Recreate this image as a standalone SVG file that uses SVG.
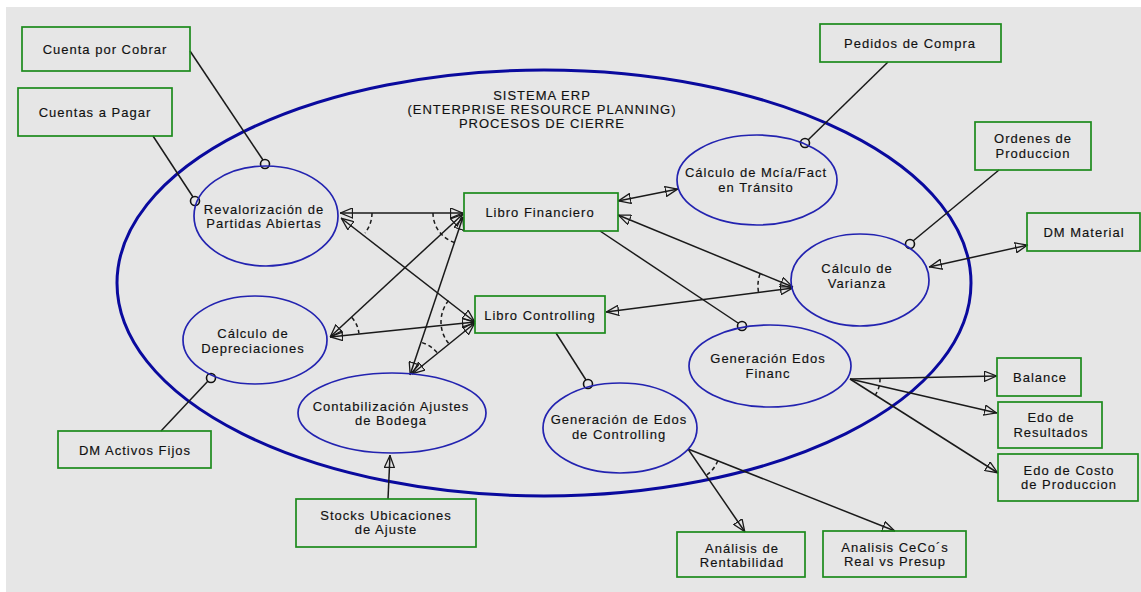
<svg xmlns="http://www.w3.org/2000/svg" width="1141" height="592" viewBox="0 0 1141 592">
  <style>
    text { font-family: "Liberation Sans", Arial, sans-serif; font-size: 13px; letter-spacing: 1px; fill: #111; stroke: #111; stroke-width: 0.15; text-anchor: middle; }
    .box { fill: none; stroke: #1c8a1c; stroke-width: 1.7; }
    .uc { fill: none; stroke: #2323b0; stroke-width: 1.7; }
    .sys { fill: none; stroke: #0a0a9e; stroke-width: 3; }
    .ln { fill: none; stroke: #1a1a1a; stroke-width: 1.5; }
    .dash { fill: none; stroke: #1a1a1a; stroke-width: 1.5; stroke-dasharray: 4 3; }
    .dot { fill: #e6e6e6; stroke: #111; stroke-width: 1.6; }
  </style>
  <defs>
    <marker id="arr" viewBox="0 0 13 11" refX="13" refY="5.5" markerWidth="13" markerHeight="11" markerUnits="userSpaceOnUse" orient="auto-start-reverse">
      <path d="M0.5,0.5 L12.5,5.5 L0.5,10.5 Z" fill="none" stroke="#1a1a1a" stroke-width="1.3"/>
    </marker>
  </defs>

  <rect x="0" y="0" width="1141" height="592" fill="#ffffff"/>
  <rect x="6" y="7" width="1135" height="585" fill="#e6e6e6"/>

  <!-- system boundary -->
  <g id="sistema-erp">
    <ellipse class="sys" cx="544" cy="283" rx="427" ry="213"/>
    <text x="542" y="100">SISTEMA ERP</text>
    <text x="542" y="114">(ENTERPRISE RESOURCE PLANNING)</text>
    <text x="542" y="128">PROCESOS DE CIERRE</text>
  </g>

  <!-- connectors -->
  <g id="connectors">
    <!-- socket links -->
    <line class="ln" x1="190" y1="51" x2="263" y2="160"/>
    <line class="ln" x1="153" y1="136" x2="193" y2="197"/>
    <line class="ln" x1="888" y1="62" x2="808" y2="140"/>
    <line class="ln" x1="999" y1="170" x2="913" y2="241"/>
    <line class="ln" x1="161" y1="431" x2="208" y2="381"/>
    <line class="ln" x1="556" y1="333" x2="586" y2="380"/>
    <line class="ln" x1="600" y1="231" x2="738" y2="323"/>
    <circle class="dot" cx="265" cy="164" r="4.5"/>
    <circle class="dot" cx="195" cy="201" r="4.5"/>
    <circle class="dot" cx="805" cy="143" r="4.5"/>
    <circle class="dot" cx="910" cy="244" r="4.5"/>
    <circle class="dot" cx="211" cy="378" r="4.5"/>
    <circle class="dot" cx="588" cy="384" r="4.5"/>
    <circle class="dot" cx="742" cy="326" r="4.5"/>

    <!-- two-way flows -->
    <line class="ln" x1="340" y1="213" x2="463" y2="213" marker-start="url(#arr)" marker-end="url(#arr)"/>
    <line class="ln" x1="341" y1="218" x2="475" y2="322" marker-start="url(#arr)" marker-end="url(#arr)"/>
    <line class="ln" x1="330" y1="337" x2="463" y2="214" marker-start="url(#arr)" marker-end="url(#arr)"/>
    <line class="ln" x1="330" y1="337" x2="475" y2="322" marker-start="url(#arr)" marker-end="url(#arr)"/>
    <line class="ln" x1="410" y1="375" x2="463" y2="217" marker-start="url(#arr)" marker-end="url(#arr)"/>
    <line class="ln" x1="412" y1="374" x2="475" y2="323" marker-start="url(#arr)" marker-end="url(#arr)"/>
    <line class="ln" x1="618" y1="201" x2="678" y2="189" marker-start="url(#arr)" marker-end="url(#arr)"/>
    <line class="ln" x1="618" y1="215" x2="793" y2="287" marker-start="url(#arr)" marker-end="url(#arr)"/>
    <line class="ln" x1="606" y1="312" x2="793" y2="288" marker-start="url(#arr)" marker-end="url(#arr)"/>
    <line class="ln" x1="929" y1="267" x2="1028" y2="245" marker-start="url(#arr)" marker-end="url(#arr)"/>

    <!-- one-way flows -->
    <line class="ln" x1="388" y1="499" x2="390" y2="455" marker-end="url(#arr)"/>
    <line class="ln" x1="850" y1="379" x2="997" y2="376" marker-end="url(#arr)"/>
    <line class="ln" x1="850" y1="379" x2="997" y2="413" marker-end="url(#arr)"/>
    <line class="ln" x1="850" y1="379" x2="998" y2="473" marker-end="url(#arr)"/>
    <line class="ln" x1="688" y1="449" x2="745" y2="532" marker-end="url(#arr)"/>
    <line class="ln" x1="688" y1="449" x2="895" y2="531" marker-end="url(#arr)"/>

    <!-- dashed constraint arcs -->
    <path class="dash" d="M372,213 A32,32 0 0 1 365,233"/>
    <path class="dash" d="M433,213 A31,31 0 0 0 454.5,242.5"/>
    <path class="dash" d="M351.8,317.6 A27,27 0 0 1 358.9,333.4"/>
    <path class="dash" d="M448.5,300.6 A34,34 0 0 0 448.8,343.6"/>
    <path class="dash" d="M422.1,342.6 A33,33 0 0 1 437.4,353"/>
    <path class="dash" d="M760,274 A35,35 0 0 0 758.5,292"/>
    <path class="dash" d="M880,378.4 A30,30 0 0 1 875.3,395.1"/>
    <path class="dash" d="M717.8,460.8 A32,32 0 0 1 706.1,475.4"/>
  </g>

  <!-- use cases -->
  <g id="revalorizacion">
    <ellipse class="uc" cx="266" cy="216" rx="72" ry="50"/>
    <text x="264" y="214">Revalorización de</text>
    <text x="264" y="228">Partidas Abiertas</text>
  </g>
  <g id="depreciaciones">
    <ellipse class="uc" cx="255" cy="340" rx="72" ry="44"/>
    <text x="253" y="338">Cálculo de</text>
    <text x="253" y="353">Depreciaciones</text>
  </g>
  <g id="ajustes-bodega">
    <ellipse class="uc" cx="392" cy="413" rx="94" ry="40"/>
    <text x="391" y="411">Contabilización Ajustes</text>
    <text x="391" y="425">de Bodega</text>
  </g>
  <g id="edos-controlling">
    <ellipse class="uc" cx="620" cy="428" rx="77" ry="45"/>
    <text x="619" y="424">Generación de Edos</text>
    <text x="619" y="439">de Controlling</text>
  </g>
  <g id="edos-financ">
    <ellipse class="uc" cx="770" cy="366" rx="81" ry="41"/>
    <text x="768" y="363">Generación Edos</text>
    <text x="768" y="378">Financ</text>
  </g>
  <g id="mcia-transito">
    <ellipse class="uc" cx="757" cy="180" rx="80" ry="45"/>
    <text x="756" y="177">Cálculo de Mcía/Fact</text>
    <text x="756" y="192">en Tránsito</text>
  </g>
  <g id="varianza">
    <ellipse class="uc" cx="860" cy="280" rx="69" ry="46"/>
    <text x="857" y="273">Cálculo de</text>
    <text x="857" y="288">Varianza</text>
  </g>

  <!-- boxes -->
  <g id="cuenta-cobrar">
    <rect class="box" x="22" y="27" width="168" height="44"/>
    <text x="105" y="54">Cuenta por Cobrar</text>
  </g>
  <g id="cuentas-pagar">
    <rect class="box" x="18" y="88" width="154" height="48"/>
    <text x="95" y="117">Cuentas a Pagar</text>
  </g>
  <g id="pedidos-compra">
    <rect class="box" x="820" y="24" width="181" height="38"/>
    <text x="910" y="48">Pedidos de Compra</text>
  </g>
  <g id="ordenes-produccion">
    <rect class="box" x="975" y="122" width="116" height="48"/>
    <text x="1033" y="143">Ordenes de</text>
    <text x="1033" y="158">Produccion</text>
  </g>
  <g id="dm-material">
    <rect class="box" x="1027" y="213" width="113" height="38"/>
    <text x="1084" y="237">DM Material</text>
  </g>
  <g id="libro-financiero">
    <rect class="box" x="464" y="193" width="154" height="38"/>
    <text x="540" y="217">Libro Financiero</text>
  </g>
  <g id="libro-controlling">
    <rect class="box" x="475" y="296" width="130" height="37"/>
    <text x="540" y="320">Libro Controlling</text>
  </g>
  <g id="dm-activos">
    <rect class="box" x="58" y="431" width="153" height="37"/>
    <text x="135" y="455">DM Activos Fijos</text>
  </g>
  <g id="stocks-ajuste">
    <rect class="box" x="296" y="499" width="180" height="48"/>
    <text x="386" y="520">Stocks Ubicaciones</text>
    <text x="386" y="534">de Ajuste</text>
  </g>
  <g id="rentabilidad">
    <rect class="box" x="677" y="532" width="128" height="45"/>
    <text x="742" y="553">Análisis de</text>
    <text x="742" y="567">Rentabilidad</text>
  </g>
  <g id="ceco-presup">
    <rect class="box" x="823" y="531" width="143" height="46"/>
    <text x="895" y="552">Analisis CeCo´s</text>
    <text x="895" y="566">Real vs Presup</text>
  </g>
  <g id="balance">
    <rect class="box" x="997" y="358" width="84" height="38"/>
    <text x="1040" y="382">Balance</text>
  </g>
  <g id="edo-resultados">
    <rect class="box" x="998" y="402" width="104" height="46"/>
    <text x="1051" y="422">Edo de</text>
    <text x="1051" y="437">Resultados</text>
  </g>
  <g id="edo-costo">
    <rect class="box" x="998" y="454" width="140" height="47"/>
    <text x="1069" y="475">Edo de Costo</text>
    <text x="1069" y="489">de Produccion</text>
  </g>
</svg>
